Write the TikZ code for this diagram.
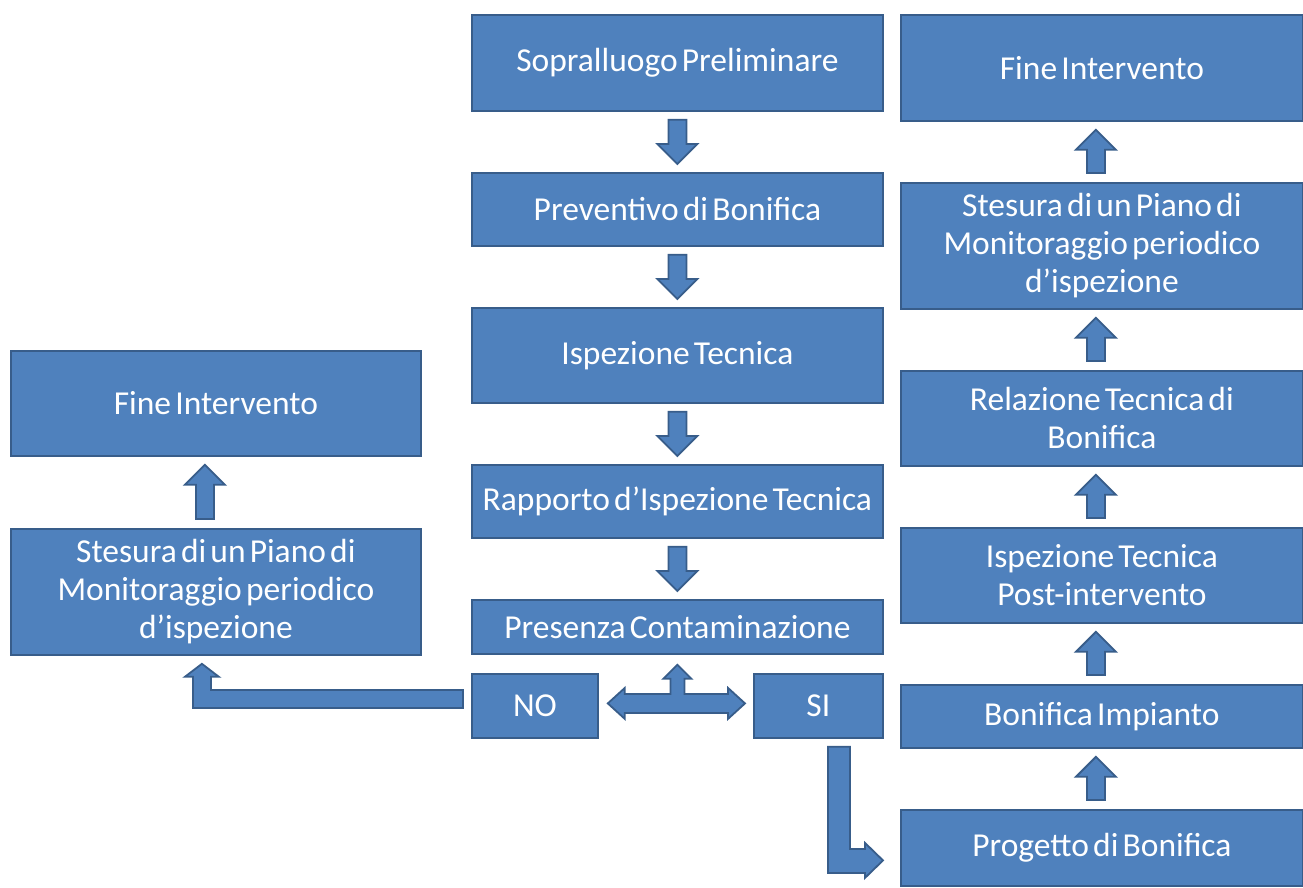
\documentclass[tikz,border=0pt]{standalone}
\usepackage{fontspec}
\newfontfamily\carlito[WordSpace=0.55]{Carlito}
\usetikzlibrary{calc}
\definecolor{boxfill}{HTML}{4F81BD}
\definecolor{boxline}{HTML}{385D8A}
\tikzset{
  box/.style={draw=boxline, line width=1.8pt, fill=boxfill, text=white,
    font=\carlito\fontsize{33.5}{38}\selectfont, align=center, inner sep=0pt, anchor=north west},
  barrow/.style={draw=boxline, line width=1.8pt, fill=boxfill, line join=miter},
}
% down block arrow between two stacked nodes
\newcommand\arrDown[3][0pt]{%
  \draw[barrow] let \p1=([xshift=#1]#2.south), \p2=(#3.north) in
    (\x1-9pt,\y1-8pt) -- (\x1-9pt,\y2+28pt) -- (\x1-20pt,\y2+28pt) -- (\x1,\y2+8pt)
    -- (\x1+20pt,\y2+28pt) -- (\x1+9pt,\y2+28pt) -- (\x1+9pt,\y1-8pt) -- cycle;}
% up block arrow from lower node #2 to upper node #3
\newcommand\arrUp[3][0pt]{%
  \draw[barrow] let \p1=([xshift=#1]#2.north), \p2=(#3.south) in
    (\x1-9pt,\y1+9pt) -- (\x1-9pt,\y2-28pt) -- (\x1-20pt,\y2-28pt) -- (\x1,\y2-8pt)
    -- (\x1+20pt,\y2-28pt) -- (\x1+9pt,\y2-28pt) -- (\x1+9pt,\y1+9pt) -- cycle;}
\begin{document}
\begin{tikzpicture}[x=1pt,y=-1pt]
\useasboundingbox (0,0) rectangle (1303,887);
% centre column
\node[box, minimum width=411, minimum height=96] (sop) at (471,14) {Sopralluogo Preliminare};
\node[box, minimum width=411, minimum height=73] (prev) at (471,172) {Preventivo di Bonifica};
\node[box, minimum width=411, minimum height=95] (isp) at (471,307) {Ispezione Tecnica};
\node[box, minimum width=411, minimum height=73] (rap) at (471,464) {Rapporto d’Ispezione Tecnica};
\node[box, minimum width=411, minimum height=54] (pres) at (471,599) {Presenza Contaminazione};
\node[box, minimum width=126, minimum height=64] (no) at (471,673) {NO};
\node[box, minimum width=129, minimum height=64] (si) at (753,673) {SI};
% right column
\node[box, minimum width=402, minimum height=106] (finR) at (900,14) {Fine Intervento};
\node[box, minimum width=402, minimum height=126] (stesR) at (900,182) {Stesura di un Piano di\\Monitoraggio periodico\\d’ispezione};
\node[box, minimum width=402, minimum height=95] (rel) at (900,370) {Relazione Tecnica di\\Bonifica};
\node[box, minimum width=402, minimum height=95] (ispP) at (900,527) {Ispezione Tecnica\\Post-intervento};
\node[box, minimum width=402, minimum height=63] (bon) at (900,684) {Bonifica Impianto};
\node[box, minimum width=402, minimum height=76] (prog) at (900,809) {Progetto di Bonifica};
% left column
\node[box, minimum width=410, minimum height=105] (finL) at (10,350) {Fine Intervento};
\node[box, minimum width=410, minimum height=126] (stesL) at (10,528) {Stesura di un Piano di\\Monitoraggio periodico\\d’ispezione};
% centre arrows
\arrDown{sop}{prev}
\arrDown{prev}{isp}
\arrDown{isp}{rap}
\arrDown{rap}{pres}
% right arrows
\arrUp[-6pt]{prog}{bon}
\arrUp[-6pt]{bon}{ispP}
\arrUp[-6pt]{ispP}{rel}
\arrUp[-6pt]{rel}{stesR}
\arrUp[-6pt]{stesR}{finR}
% left arrow
\arrUp[-11pt]{stesL}{finL}
% T arrow between NO and SI, up to Presenza
\draw[barrow] let \p1=(no.east), \p2=(si.west), \p3=(pres.south) in
  (\x1+9pt,\y1+2.5pt) -- (\x1+26pt,\y1+18pt) -- (\x1+26pt,\y1+12pt) -- (\x3-7pt,\y1+12pt)
  -- (\x3-7pt,\y3-24pt) -- (\x3-14pt,\y3-24pt) -- (\x3,\y3-10pt) -- (\x3+14pt,\y3-24pt)
  -- (\x3+7pt,\y3-24pt) -- (\x3+7pt,\y1+12pt) -- (\x2-25pt,\y1+12pt) -- (\x2-25pt,\y1+18pt)
  -- (\x2-8pt,\y1+2.5pt) -- (\x2-25pt,\y1-13pt) -- (\x2-25pt,\y1-7pt) -- (\x1+26pt,\y1-7pt)
  -- (\x1+26pt,\y1-13pt) -- cycle;
% L arrow from NO to left Stesura
\draw[barrow] let \p1=(no.west), \p2=(stesL.south) in
  (\x1-8pt,\y1+16pt) -- (\x2-5pt,\y1+16pt) -- (\x2-5pt,\y2-21pt) -- (\x2+3pt,\y2-21pt)
  -- (\x2-14pt,\y2-8pt) -- (\x2-31pt,\y2-21pt) -- (\x2-23pt,\y2-21pt) -- (\x2-23pt,\y1-2pt)
  -- (\x1-8pt,\y1-2pt) -- cycle;
% L arrow from SI to Progetto
\draw[barrow] let \p1=(si.south), \p2=(prog.west) in
  (\x1+9.5pt,\y1-8pt) -- (\x1+31.5pt,\y1-8pt) -- (\x1+31.5pt,\y2-1pt) -- (\x2-35pt,\y2-1pt)
  -- (\x2-35pt,\y2+5pt) -- (\x2-17pt,\y2-12.5pt) -- (\x2-35pt,\y2-30pt) -- (\x2-35pt,\y2-25pt)
  -- (\x1+9.5pt,\y2-25pt) -- cycle;
\end{tikzpicture}
\end{document}
